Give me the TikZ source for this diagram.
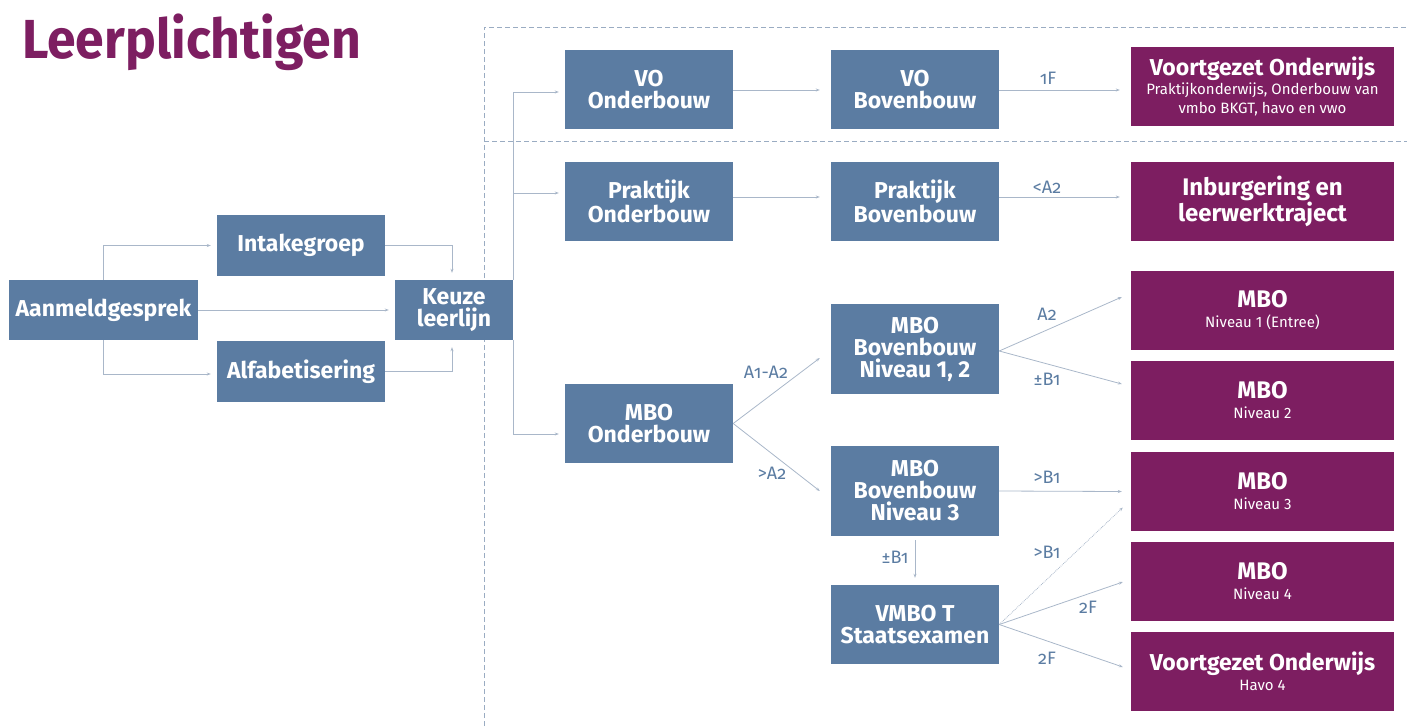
\documentclass[tikz,border=0pt]{standalone}
\usepackage{fontspec}
\setmainfont{Fira Sans}
\newfontfamily\lblfont{Fira Sans}[Numbers=OldStyle]
\usetikzlibrary{calc,arrows.meta}
\definecolor{boxblue}{HTML}{5B7CA2}
\definecolor{boxpurple}{HTML}{7D1E61}
\definecolor{linecol}{HTML}{A9B7C9}
\definecolor{labelcol}{HTML}{5B7CA2}
\definecolor{sepcol}{HTML}{9AACC2}
\tikzset{
  box/.style={rectangle, inner sep=0pt, align=center, text=white,
    font=\bfseries\fontsize{23}{22}\selectfont},
  bluebox/.style={box, fill=boxblue},
  purplebox/.style={box, fill=boxpurple, minimum width=263pt, minimum height=79pt,
    font=\bfseries\fontsize{24}{23}\selectfont},
  conn/.style={draw=linecol, line width=0.8pt, -{Stealth[length=4pt,width=3pt]}},
  lbl/.style={text=labelcol, font=\lblfont\fontsize{18}{18}\selectfont, inner sep=0pt},
  sepline/.style={draw=sepcol, dash pattern=on 5pt off 3pt, line width=0.9pt},
}
\newcommand{\subtxt}[1]{{\mdseries\fontsize{15}{16}\selectfont #1}}
\newcommand{\headtxt}[1]{{\fontsize{23}{22}\selectfont #1}}
\begin{document}
\begin{tikzpicture}[x=1pt,y=-1pt]
\useasboundingbox (0,0) rectangle (1407,726);
% separators
\coordinate (s1) at (484,726);
\coordinate (s2) at (484,27);
\coordinate (s3) at (1407,27);
\coordinate (s4) at (484,141);
\coordinate (s5) at (1407,141);
\draw[sepline] (s1) -- (s2) -- (s3);
\draw[sepline] (s4) -- (s5);
% title
\node[anchor=base west, inner sep=0pt, text=boxpurple, font=\bfseries\fontsize{55}{55}\selectfont] (title) at (22,58) {\scalebox{0.94}[1]{Leerplichtigen}};
% blue boxes
\node[bluebox, minimum width=189pt, minimum height=60pt] (aan) at (103.5,310) {Aanmeldgesprek};
\node[bluebox, minimum width=168pt, minimum height=61pt] (intake) at (301,245.5) {Intakegroep};
\node[bluebox, minimum width=168pt, minimum height=61pt] (alfa) at (301,371.5) {Alfabetisering};
\node[bluebox, minimum width=118pt, minimum height=60pt] (keuze) at (454,310) {Keuze\\leerlijn};
\node[bluebox, minimum width=168pt, minimum height=79pt] (voob) at (649,89.5) {VO\\Onderbouw};
\node[bluebox, minimum width=168pt, minimum height=79pt] (vobb) at (915,89.5) {VO\\Bovenbouw};
\node[bluebox, minimum width=168pt, minimum height=79pt] (prob) at (649,201.5) {Praktijk\\Onderbouw};
\node[bluebox, minimum width=168pt, minimum height=79pt] (prbb) at (915,201.5) {Praktijk\\Bovenbouw};
\node[bluebox, minimum width=168pt, minimum height=79pt] (mboob) at (649,423.5) {MBO\\Onderbouw};
\node[bluebox, minimum width=168pt, minimum height=90pt] (mbo12) at (915,349) {MBO\\Bovenbouw\\Niveau 1, 2};
\node[bluebox, minimum width=168pt, minimum height=90pt] (mbo3) at (915,491) {MBO\\Bovenbouw\\Niveau 3};
\node[bluebox, minimum width=168pt, minimum height=79pt] (vmbot) at (915,624.5) {VMBO T\\Staatsexamen};
% purple boxes
\node[purplebox] (pvo) at (1262.5,86.5) {\headtxt{Voortgezet Onderwijs}\\[-4pt]\subtxt{Praktijkonderwijs, Onderbouw van}\\[-4pt]\subtxt{vmbo BKGT, havo en vwo}};
\node[purplebox] (pinb) at (1262.5,201.5) {Inburgering en\\leerwerktraject};
\node[purplebox] (p1) at (1262.5,310.5) {MBO\\[-3pt]\subtxt{Niveau 1 (Entree)}};
\node[purplebox] (p2) at (1262.5,400.5) {MBO\\[-3pt]\subtxt{Niveau 2}};
\node[purplebox] (p3) at (1262.5,491.5) {MBO\\[-3pt]\subtxt{Niveau 3}};
\node[purplebox] (p4) at (1262.5,581.5) {MBO\\[-3pt]\subtxt{Niveau 4}};
\node[purplebox] (phavo) at (1262.5,671.5) {\headtxt{Voortgezet Onderwijs}\\[-3pt]\subtxt{Havo 4}};
% connectors left
\draw[conn] (aan.north) |- ($(intake.west)+(-6,0)$);
\draw[conn] (aan.south) |- ($(alfa.west)+(-6,2.5)$);
\draw[conn] (aan.east) -- ($(keuze.west)+(-6,0)$);
\draw[conn] (intake.east) -| ($(keuze.north)+(-2,-7)$);
\draw[conn] (alfa.east) -| ($(keuze.south)+(-2,7)$);
% keuze branches
\draw[conn] (keuze.north east) |- ($(voob.west)+(-6,2.5)$);
\draw[conn] (keuze.north east) |- ($(prob.west)+(-6,-8.5)$);
\draw[conn] (keuze.south east) |- ($(mboob.west)+(-6,10.5)$);
% rows
\draw[conn] ($(voob.east)+(0,0.5)$) -- ($(vobb.west)+(-11,0.5)$);
\draw[conn] ($(vobb.east)+(0,0.5)$) -- ($(pvo.west)+(-11,3.5)$);
\draw[conn] ($(prob.east)+(0,-4.5)$) -- ($(prbb.west)+(-11,-4.5)$);
\draw[conn] ($(prbb.east)+(0,-4.5)$) -- ($(pinb.west)+(-11,-4.5)$);
\draw[conn] (mboob.east) -- ($(mbo12.west)+(-11,9)$);
\draw[conn] (mboob.east) -- ($(mbo3.west)+(-11,0)$);
\draw[conn] ($(mbo12.east)+(0,2)$) -- ($(p1.west)+(-9,-13.5)$);
\draw[conn] ($(mbo12.east)+(0,2)$) -- ($(p2.west)+(-9,-16.5)$);
\draw[conn] (mbo3.east) -- ($(p3.west)+(-9,0)$);
\draw[conn] ($(mbo3.south)+(0,4)$) -- ($(vmbot.north)+(0,-7)$);
\draw[conn, densely dotted] (vmbot.east) -- ($(p3.west)+(-8,16)$);
\draw[conn] (vmbot.east) -- ($(p4.west)+(-8,0.5)$);
\draw[conn] (vmbot.east) -- ($(phavo.west)+(-8,-4.5)$);
% labels
\node[lbl] (l1f) at (1048,78) {1F};
\node[lbl] (lpr) at (1047,187) {<A2};
\node[lbl] (la1) at (766,372) {A1-A2};
\node[lbl] (la2) at (772,473) {>A2};
\node[lbl] (lb2a) at (1047,314) {A2};
\node[lbl] (lb2b) at (1047,379) {±B1};
\node[lbl] (lb3) at (1047,477) {>B1};
\node[lbl] (lvt) at (895,557) {±B1};
\node[lbl] (lv3) at (1047,552) {>B1};
\node[lbl] (lv4) at (1088,607) {2F};
\node[lbl] (lvh) at (1047,658) {2F};
\end{tikzpicture}
\end{document}
